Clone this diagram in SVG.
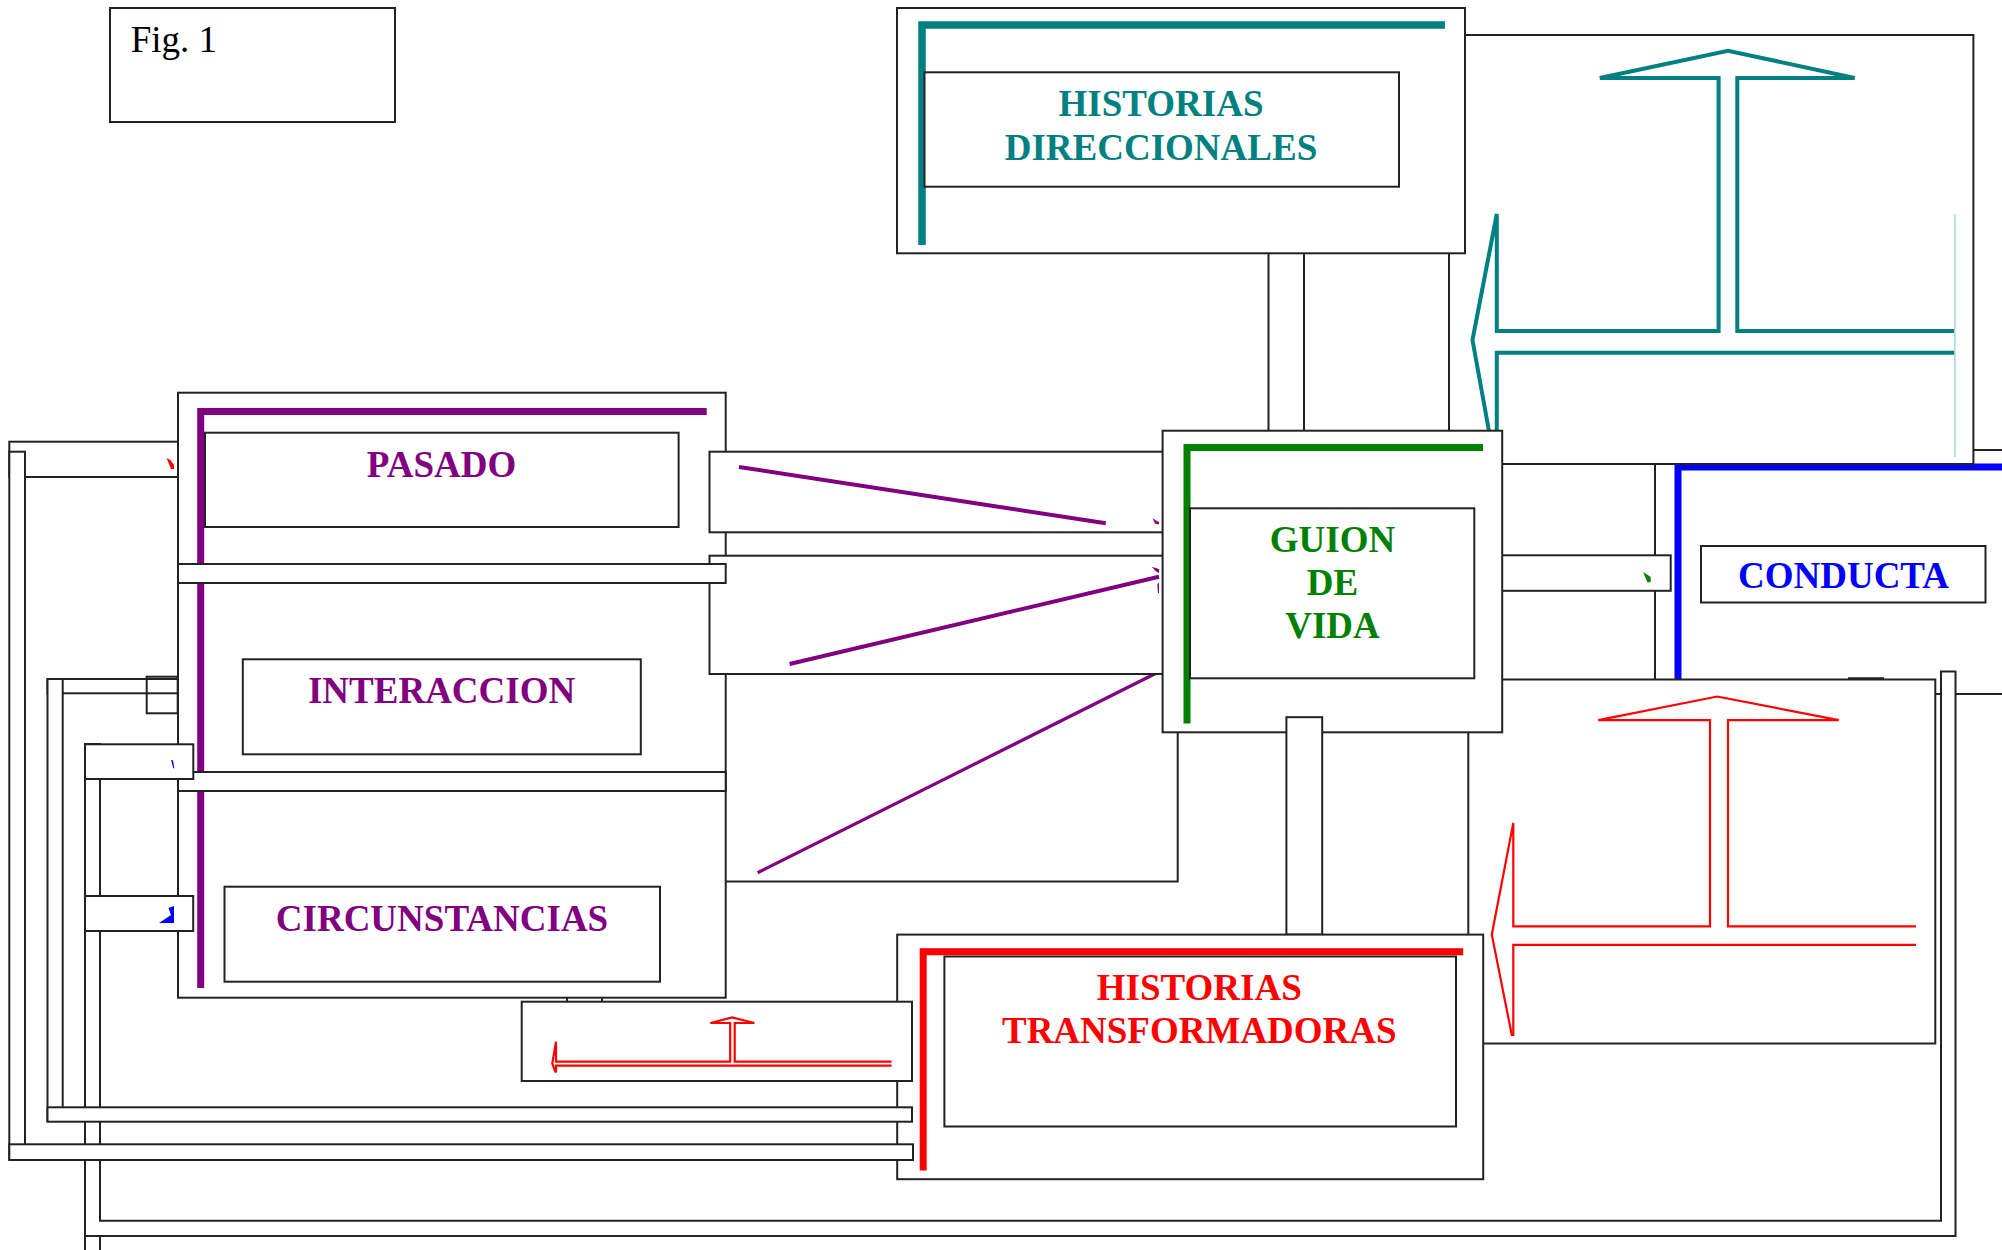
<svg xmlns="http://www.w3.org/2000/svg" width="2002" height="1250" viewBox="0 0 2002 1250">
<style>
.bx{fill:#fff;stroke:#222;stroke-width:2}
.nf{fill:none;stroke:#222;stroke-width:2}
.lbl{font-family:"Liberation Serif","Times New Roman",serif;font-weight:bold;font-size:37px;text-anchor:middle}
.fig{font-family:"Liberation Serif","Times New Roman",serif;font-size:37px;fill:#000}
.tealL{fill:none;stroke:#008080;stroke-width:7.5}
.purL{fill:none;stroke:#800080;stroke-width:7}
.grnL{fill:none;stroke:#008000;stroke-width:7}
.bluL{fill:none;stroke:#0000ff;stroke-width:7}
.redL{fill:none;stroke:#ff0000;stroke-width:7}
.tarr{fill:none;stroke:#008080;stroke-width:4}
.rarr{fill:none;stroke:#ff0000;stroke-width:2.2}
.parr{fill:none;stroke:#800080}
</style>
<rect width="2002" height="1250" fill="#fff"/>

<g id="fig-label">
<rect class="bx" x="110" y="8" width="285" height="114"/>
<text class="fig" x="130.7" y="51.7">Fig. 1</text>
</g>

<g id="conducta">
<rect class="bx" x="1655" y="450" width="360" height="244"/>
<path class="bluL" d="M1678,682 V467 H2010"/>
<rect class="bx" x="1701" y="546" width="284.5" height="56.5"/>
<text class="lbl" x="1843.5" y="588.3" fill="#0000ff">CONDUCTA</text>
</g>

<g id="connectors-back">
<rect class="bx" x="1502" y="555.3" width="168.7" height="35.5"/>
<polygon points="1643,572 1647,574.5 1650.7,577 1650.7,582.3 1647.5,582.3" fill="#008000"/>
<rect class="bx" x="1449" y="35" width="524.4" height="429"/>
<path class="tarr" d="M1599.8,78 L1728,50.7 L1854.6,78 L1737.3,78 L1737.3,331 L1954.8,331"/>
<path class="tarr" d="M1599.8,78 L1718.6,78 L1718.6,331 L1496.8,331 L1496.8,214 L1472.5,340 L1491.5,445"/>
<path class="tarr" d="M1954.8,352.7 L1496.8,352.7 L1496.8,445"/>
<path d="M1954.8,214 V457" fill="none" stroke="#a8d4d4" stroke-width="1.5"/>
<rect class="bx" x="1468.3" y="679.5" width="467" height="364"/>
<path d="M1848,678.6 H1884" stroke="#222" stroke-width="2.5"/>
<path class="rarr" d="M1598.4,720.2 L1717.2,696.5 L1838.8,720.2 L1728,720.2 L1728,926.4 L1916,926.4"/>
<path class="rarr" d="M1598.4,720.2 L1710,720.2 L1710,926.4 L1513.3,926.4 L1513.3,822.9 L1491.8,934.6 L1512,1036"/>
<path class="rarr" d="M1916,944.8 L1513.3,944.8 L1513.3,1036"/>
<rect class="bx" x="1268.5" y="253" width="35.5" height="178"/>
<path class="bx" d="M85,744 H100 V1220.7 H1941 V671.5 H1955.5 V1236 H85 Z"/>
<rect class="bx" x="85" y="1236" width="15" height="30"/>
<rect class="bx" x="9.3" y="441.7" width="180" height="35.3"/>
<rect class="bx" x="9.3" y="451.7" width="15.7" height="708"/>
<polygon points="166.5,458 170.5,460 174,465 174,469 171,469" fill="#ff0000"/>
<rect class="bx" x="47.5" y="679" width="140" height="14.3"/>
<rect class="bx" x="47.5" y="679" width="15.2" height="442"/>
<rect class="nf" x="146.7" y="676.7" width="31" height="36.6"/>
<rect class="bx" x="700" y="673.5" width="477.7" height="208"/>
<path class="parr" stroke-width="3.2" d="M757.7,872.7 L1155.5,673.5"/>
<rect class="bx" x="567" y="985" width="35" height="17"/>
</g>

<g id="historias-direccionales">
<rect class="bx" x="897" y="8" width="568" height="245.3"/>
<path class="tealL" d="M922,245 V25 H1445"/>
<rect class="bx" x="924.5" y="72.3" width="474.5" height="114.4"/>
<text class="lbl" x="1161" y="116" fill="#008080">HISTORIAS</text>
<text class="lbl" x="1161" y="160" fill="#008080">DIRECCIONALES</text>
</g>

<g id="pasado-frame">
<rect class="bx" x="178" y="392.7" width="547.7" height="605"/>
<path class="purL" d="M200.7,988 V411.5 H706.7"/>
</g>

<g id="connectors-mid">
<rect class="bx" x="709.5" y="451.7" width="470" height="80.6"/>
<path class="parr" stroke-width="4" d="M739,467 L1105.8,523.3"/>
<polygon points="1152.5,518 1156,520.5 1159,522 1159,524.5 1155,523.5" fill="#800080"/>
<rect class="bx" x="709.5" y="555.7" width="470" height="118.3"/>
<path class="parr" stroke-width="4" d="M789.6,664 L1159,576.7"/>
<polygon points="1151.7,566.7 1159,569 1159,573 1156,571.5" fill="#800080"/>
<polygon points="1157.3,585 1159,582 1159,593.3 1158,593.3" fill="#800080"/>
</g>

<g id="pasado-interaccion-circunstancias">
<rect class="bx" x="178" y="564" width="547.7" height="19"/>
<rect class="bx" x="178" y="772" width="547.7" height="19"/>
<rect class="bx" x="205" y="432.7" width="473.6" height="94.3"/>
<text class="lbl" x="441.5" y="476.7" fill="#800080">PASADO</text>
<rect class="bx" x="242.8" y="659.3" width="398" height="95"/>
<text class="lbl" x="441.6" y="703.3" fill="#800080">INTERACCION</text>
<rect class="bx" x="224.5" y="886.7" width="435.5" height="95"/>
<text class="lbl" x="442" y="930.7" fill="#800080">CIRCUNSTANCIAS</text>
</g>

<g id="connectors-left">
<rect class="bx" x="85" y="744.3" width="108.3" height="34.7"/>
<polygon points="171,760 173,760.5 174.3,768.3 173.3,768.3" fill="#0000ff"/>
<rect class="bx" x="85" y="896" width="108.2" height="35"/>
<polygon points="159,923 174,923 174,906 168.5,908 171,915" fill="#0000ff"/>
</g>

<g id="guion-de-vida">
<rect class="bx" x="1162.6" y="430.7" width="339.6" height="301.6"/>
<path class="grnL" d="M1187,723.5 V447.5 H1483"/>
<rect class="bx" x="1190" y="508.3" width="284.3" height="170"/>
<text class="lbl" x="1332.5" y="551.7" fill="#008000">GUION</text>
<text class="lbl" x="1332.5" y="595" fill="#008000">DE</text>
<text class="lbl" x="1332.5" y="638.3" fill="#008000">VIDA</text>
</g>

<g id="connector-guion-ht">
<rect class="bx" x="1286.4" y="717.2" width="35.8" height="217.4"/>
</g>

<g id="historias-transformadoras">
<rect class="bx" x="897.2" y="934.6" width="586" height="244.6"/>
<path class="redL" d="M923.2,1170.5 V951.7 H1463.2"/>
<rect class="bx" x="944.4" y="956.5" width="511.6" height="170"/>
<text class="lbl" x="1199.3" y="999.7" fill="#ff0000">HISTORIAS</text>
<text class="lbl" x="1199.3" y="1043" fill="#ff0000">TRANSFORMADORAS</text>
</g>

<g id="connectors-front">
<rect class="bx" x="9.3" y="1144.3" width="903.7" height="15.7"/>
<rect class="bx" x="47.5" y="1107.3" width="864.5" height="14.4"/>
<rect class="bx" x="521.7" y="1001.7" width="390.3" height="79.3"/>
<path class="rarr" stroke-width="1.8" d="M710.5,1023 L732.1,1017.5 L754.4,1023 L734.7,1023 L734.7,1061.7 L891.6,1061.7"/>
<path class="rarr" stroke-width="1.8" d="M710.5,1023 L730.2,1023 L730.2,1061.7 L556,1061.7 L556,1041.7 L552.3,1063.3 L555.5,1072.5"/>
<path class="rarr" stroke-width="1.8" d="M891.6,1065.7 L556,1065.7 L556,1072.5"/>
</g>
</svg>
